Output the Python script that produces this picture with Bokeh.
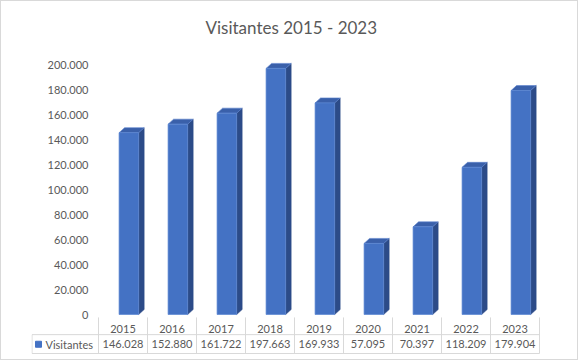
from bokeh.plotting import figure
from bokeh.models import Range1d, FixedTicker, CustomJSTickFormatter, ColumnDataSource
from bokeh.core.properties import value
from bokeh.embed import file_html
from bokeh.resources import INLINE

# ---- data ----
years = ["2015", "2016", "2017", "2018", "2019", "2020", "2021", "2022", "2023"]
visitantes = [146028, 152880, 161722, 197663, 169933, 57095, 70397, 118209, 179904]
series_name = "Visitantes"
title_text = "Visitantes 2015 - 2023"
y_ticks = [0, 20000, 40000, 60000, 80000, 100000, 120000, 140000, 160000, 180000, 200000]

FONT = "Lato"
TXT = "#595959"
GRID = "#D9D9D9"
FRONT = "#4472C4"
SIDE = "#2C4B88"
TOP = "#3A60AA"

def fmt(v):
    return f"{v:,}".replace(",", ".")

n = len(years)
idx = list(range(n))

# value units per pixel
vpp = 803.2
y_start = -41 * vpp
y_end = 264 * vpp
row_h = 18.5

p = figure(width=578, height=360,
           x_range=Range1d(-67 / 49.0, 442 / 49.0),
           y_range=Range1d(y_start, y_end),
           output_backend="svg", toolbar_location=None, x_axis_location=None,
           min_border_left=30, min_border_right=39, min_border_top=49, min_border_bottom=6)
p.extra_y_ranges = {"table": Range1d(39 / row_h, -266 / row_h)}
p.outline_line_color = None
p.grid.visible = False
p.background_fill_color = "white"
p.border_fill_color = "white"
p.styles = {"border": "1px solid #D9D9D9"}

p.title.text = title_text
p.title.align = "left"
p.title.offset = 174
p.title.standoff = 25
p.title.text_font = FONT
p.title.text_font_size = "17px"
p.title.text_font_style = "normal"
p.title.text_color = TXT

ya = p.yaxis[0]
ya.ticker = FixedTicker(ticks=y_ticks)
ya.formatter = CustomJSTickFormatter(code="return tick.toString().replace(/\\B(?=(\\d{3})+(?!\\d))/g, '.');")
ya.axis_line_color = None
ya.major_tick_line_color = None
ya.minor_tick_line_color = None
ya.major_tick_out = 0
ya.major_tick_in = 0
ya.major_label_standoff = -57
ya.major_label_text_font = FONT
ya.major_label_text_font_size = "11px"
ya.major_label_text_color = TXT

# ---- 3D-looking columns ----
bw_l, bw_r = 0.42, 0.82
dx = 5.5 / 49.0
dy = 5 * vpp

lefts = [i + bw_l for i in idx]
rights = [i + bw_r for i in idx]

side_xs = [[r, r + dx, r + dx, r] for r in rights]
side_ys = [[0, dy, v + dy, v] for v in visitantes]
top_xs = [[l, l + dx, r + dx, r] for l, r in zip(lefts, rights)]
top_ys = [[v, v + dy, v + dy, v] for v in visitantes]

p.patches(side_xs, side_ys, fill_color=SIDE, line_color=SIDE, line_width=0.5)
p.patches(top_xs, top_ys, fill_color=TOP, line_color="#5B82CC", line_width=0.6)
p.quad(left=lefts, right=rights, bottom=0, top=visitantes,
       fill_color=FRONT, line_color="#5A86D2", line_width=0.7)

# ---- data table ----
leg_left = -67 / 49.0 + 0.01
p.segment(x0=list(range(n + 1)), x1=list(range(n + 1)), y0=0.05, y1=2,
          line_color=GRID, line_width=1, y_range_name="table")
p.segment(x0=[leg_left, leg_left], x1=[n, n], y0=[0.98, 2], y1=[0.98, 2],
          line_color=GRID, line_width=1, y_range_name="table")
p.segment(x0=[leg_left], x1=[leg_left], y0=[0.98], y1=[2],
          line_color=GRID, line_width=1, y_range_name="table")

src = ColumnDataSource(dict(x=[i + 0.5 for i in idx], year=years,
                            val=[fmt(v) for v in visitantes]))
p.text(x="x", y=0.66, text="year", source=src, text_align="center", text_baseline="middle",
       text_font=value(FONT), text_font_size="11px", text_color=TXT, y_range_name="table")
p.text(x="x", y=1.5, text="val", source=src, text_align="center", text_baseline="middle",
       text_font=value(FONT), text_font_size="11px", text_color=TXT, y_range_name="table")

p.scatter(x=[-60 / 49.0], y=[1.5], marker="square", size=6, fill_color=FRONT, line_color=FRONT,
          y_range_name="table")
p.text(x=[-53 / 49.0], y=[1.5], text=[series_name], text_align="left", text_baseline="middle",
       text_font=value(FONT), text_font_size="11px", text_color=TXT, y_range_name="table")

open("out.html", "w").write(file_html(p, INLINE))
